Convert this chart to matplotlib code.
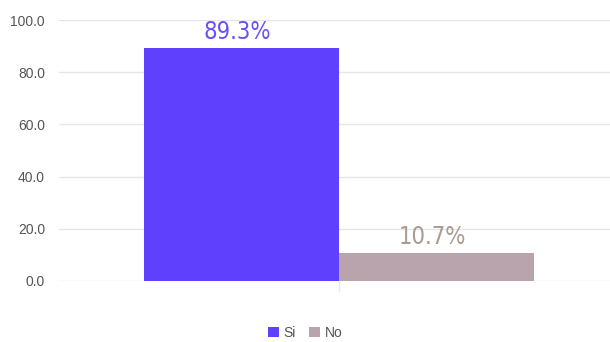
import matplotlib
matplotlib.use("Agg")
import matplotlib.pyplot as plt

series = ["Si", "No"]
values = [89.3, 10.7]
labels = ["89.3%", "10.7%"]
colors = ["#5f40fd", "#b9a4ae"]
label_colors = ["#6a50f6", "#a89b90"]
yticks = [0, 20, 40, 60, 80, 100]

plt.rcParams["font.family"] = ["Liberation Sans", "DejaVu Sans"]

fig = plt.figure(figsize=(6.1, 3.42), dpi=100)
ax = fig.add_axes([59 / 610, 1 - 281 / 342, 1 - 59 / 610, 261 / 342])

width = 0.354
for i, (name, v) in enumerate(zip(series, values)):
    x = (i - 0.5) * width
    ax.bar(x, v, width=width, color=colors[i], label=name, zorder=2)
    ax.annotate(labels[i], (x, v), xytext=(-3, 3), textcoords="offset points",
                ha="center", va="bottom", fontsize=17, color=label_colors[i],
                family=["Liberation Sans Narrow", "DejaVu Sans"], fontstretch="condensed")

ax.set_xlim(-0.508, 0.492)
ax.set_ylim(0, 100)
ax.set_yticks(yticks)
ax.set_yticklabels([f"{t:.1f}" for t in yticks], fontsize=10, color="#555555")
ax.set_xticks([0])
ax.set_xticklabels([""])
ax.tick_params(axis="y", length=0, pad=10)
ax.tick_params(axis="x", length=7, color="#e6e6e6", width=1)
ax.grid(axis="y", color="#e6e6e6", linewidth=1, zorder=0)
for s in ax.spines.values():
    s.set_visible(False)

fig.legend(loc="center", bbox_to_anchor=(0.5, 1 - 333 / 342), ncol=2, frameon=False,
           handlelength=0.8, handleheight=0.8, handletextpad=0.3, columnspacing=1.0,
           fontsize=10, labelcolor="#555555")

fig.savefig("out.png", dpi=100)
